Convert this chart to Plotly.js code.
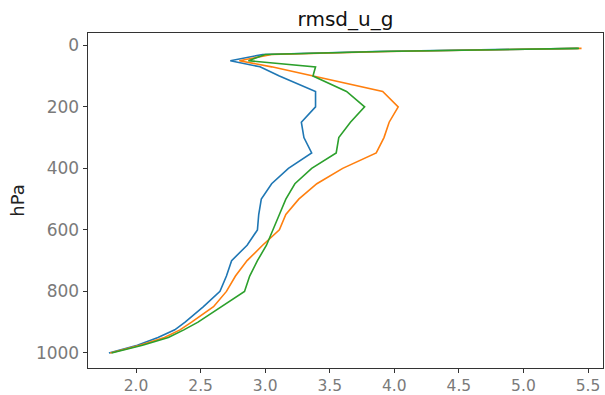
<!DOCTYPE html>
<html>
<head>
<meta charset="utf-8">
<script src="https://cdn.plot.ly/plotly-3.0.1.min.js"></script>
<style>html,body{margin:0;padding:0;background:#fff;}#chart{width:605px;height:395px;}</style>
</head>
<body>
<div id="chart"></div>
<script>
const levels = [10, 20, 30, 50, 70, 100, 150, 200, 250, 300, 350, 400, 450, 500, 550, 600, 650, 700, 750, 800, 850, 900, 925, 950, 975, 1000];
const blueVals   = [5.42, 3.85, 2.98, 2.73, 2.96, 3.11, 3.39, 3.39, 3.28, 3.30, 3.36, 3.18, 3.05, 2.97, 2.95, 2.94, 2.86, 2.74, 2.70, 2.65, 2.52, 2.38, 2.30, 2.17, 2.01, 1.79];
const orangeVals = [5.45, 3.95, 3.05, 2.80, 3.05, 3.37, 3.91, 4.03, 3.96, 3.92, 3.86, 3.60, 3.40, 3.26, 3.16, 3.11, 2.98, 2.86, 2.77, 2.70, 2.60, 2.43, 2.34, 2.22, 2.03, 1.80];
const greenVals  = [5.43, 3.90, 3.00, 2.87, 3.39, 3.37, 3.63, 3.77, 3.66, 3.57, 3.55, 3.36, 3.23, 3.16, 3.11, 3.06, 3.01, 2.94, 2.88, 2.84, 2.66, 2.48, 2.37, 2.25, 2.05, 1.81];
const seriesColors = ['#1f77b4', '#ff7f0e', '#2ca02c'];
const xTickVals = [2.0, 2.5, 3.0, 3.5, 4.0, 4.5, 5.0, 5.5];
const yTickVals = [0, 200, 400, 600, 800, 1000];

const traces = [blueVals, orangeVals, greenVals].map((vals, i) => ({
  x: vals, y: levels, type: 'scatter', mode: 'lines',
  line: {color: seriesColors[i], width: 1.6}, showlegend: false, hoverinfo: 'skip'
}));

const xTickFont = {family: 'DejaVu Sans', size: 15.5, color: '#7a7a7a'};
const yTickFont = {family: 'DejaVu Sans', size: 17, color: '#7a7a7a'};
const layout = {
  width: 605, height: 395,
  margin: {l: 88, r: 2, t: 33, b: 27, pad: 0},
  paper_bgcolor: '#fff', plot_bgcolor: '#fff',
  font: {family: 'DejaVu Sans'},
  title: {text: 'rmsd_u_g', font: {family: 'DejaVu Sans', size: 20, color: '#111'},
          x: 0.5, xref: 'paper', xanchor: 'center', y: 1 - 19/395, yref: 'container', yanchor: 'middle'},
  xaxis: {range: [1.628, 5.616], tickvals: xTickVals, ticktext: xTickVals.map(v => v.toFixed(1)),
          showgrid: false, zeroline: false, showline: true, mirror: true, linecolor: '#333', linewidth: 1.4,
          ticks: 'outside', ticklen: 4, tickcolor: '#333', tickfont: xTickFont, ticklabelstandoff: -1},
  yaxis: {range: [1049, -40], tickvals: yTickVals, ticktext: yTickVals.map(String),
          showgrid: false, zeroline: false, showline: true, mirror: true, linecolor: '#333', linewidth: 1.4,
          ticks: 'outside', ticklen: 4, tickcolor: '#333', tickfont: yTickFont, ticklabelstandoff: 0,
          title: {text: 'hPa', font: {family: 'DejaVu Sans', size: 18, color: '#222'}, standoff: 6}}
};
Plotly.newPlot('chart', traces, layout, {staticPlot: true, displayModeBar: false});
</script>
</body>
</html>
